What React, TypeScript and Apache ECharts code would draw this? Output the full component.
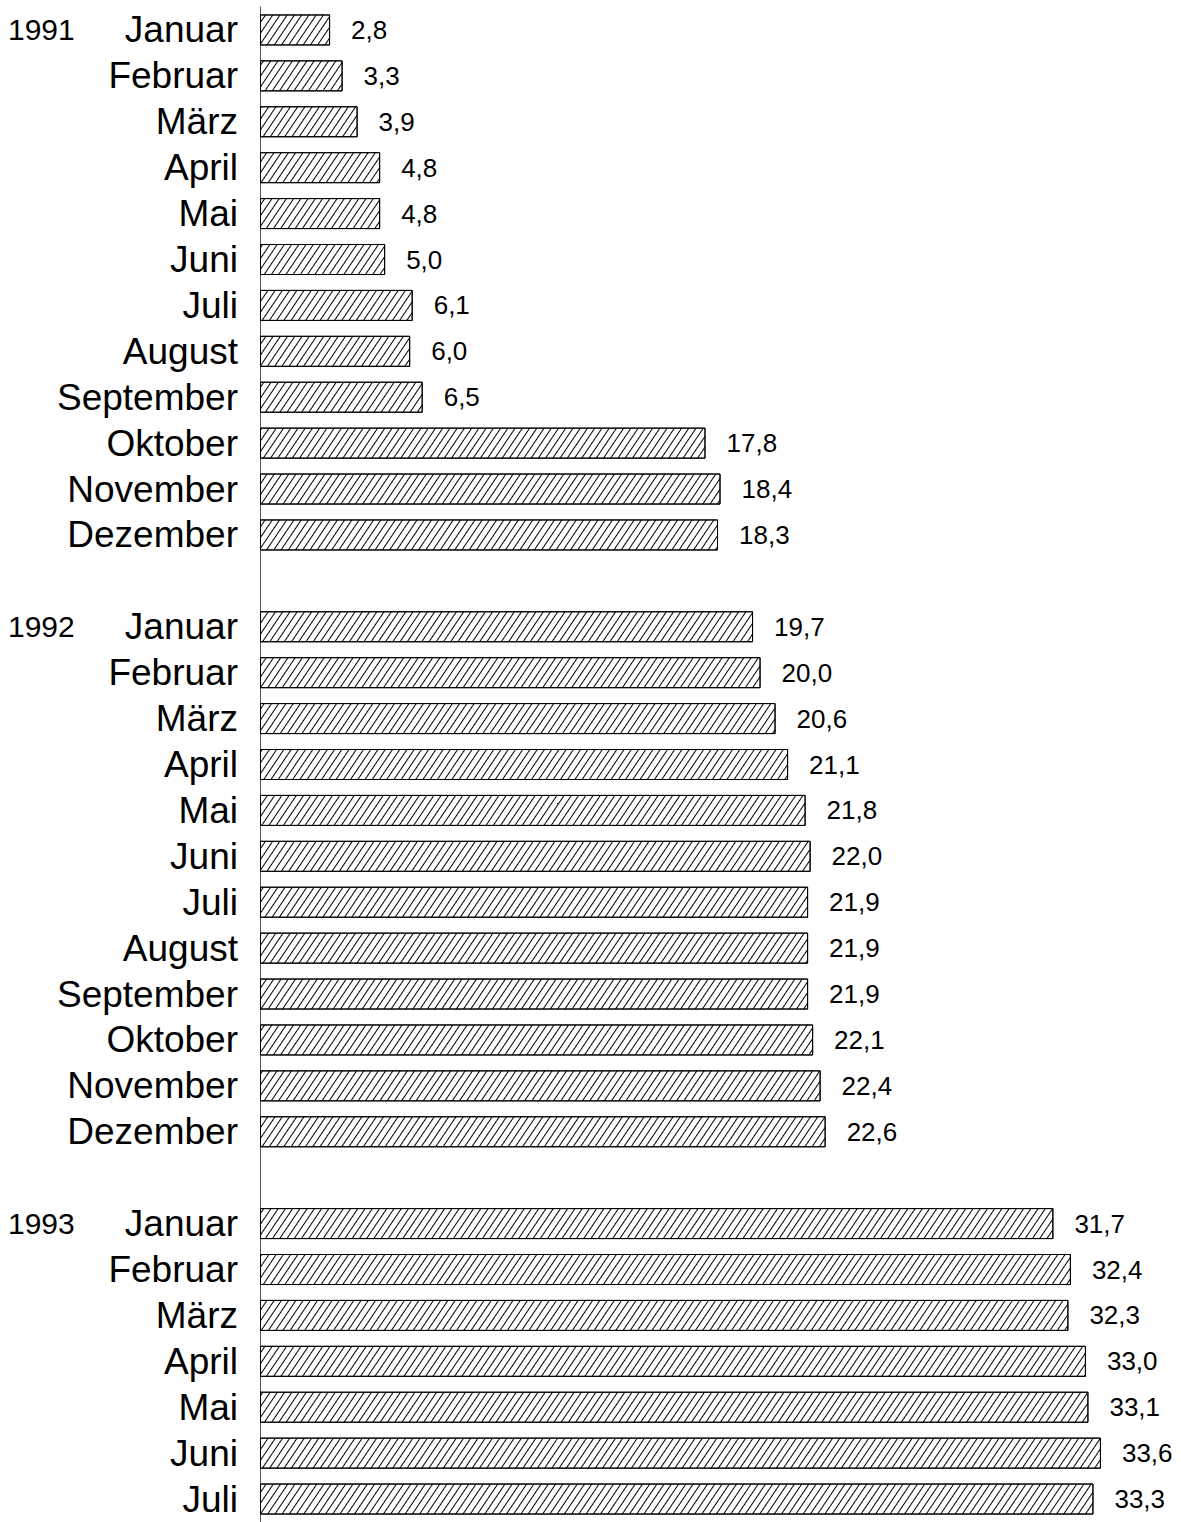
import React, { useEffect, useRef } from "react";
import * as echarts from "echarts";

const months = ["Januar", "Februar", "März", "April", "Mai", "Juni", "Juli", "August", "September", "Oktober", "November", "Dezember"];
const months1993 = ["Januar", "Februar", "März", "April", "Mai", "Juni", "Juli"];
const years = ["1991", "1992", "1993"];
const values1991 = [2.8, 3.3, 3.9, 4.8, 4.8, 5.0, 6.1, 6.0, 6.5, 17.8, 18.4, 18.3];
const values1992 = [19.7, 20.0, 20.6, 21.1, 21.8, 22.0, 21.9, 21.9, 21.9, 22.1, 22.4, 22.6];
const values1993 = [31.7, 32.4, 32.3, 33.0, 33.1, 33.6, 33.3];

const categories: string[] = [...months, "", ...months, "", ...months1993];
const yearLabels: string[] = [
  years[0], ...Array(11).fill(""), "",
  years[1], ...Array(11).fill(""), "",
  years[2], ...Array(6).fill(""),
];
const values: (number | null)[] = [...values1991, null, ...values1992, null, ...values1993];

export default function App() {
  const ref = useRef<HTMLDivElement>(null);
  useEffect(() => {
    if (!ref.current) return;
    const chart = echarts.init(ref.current, null, { renderer: "svg" });
    chart.setOption({
      animation: false,
      backgroundColor: "#fff",
      grid: { left: 260, top: 7, width: 901, height: 1515 },
      xAxis: {
        type: "value",
        min: 0,
        max: 36,
        show: false,
      },
      yAxis: [
        {
          type: "category",
          data: categories,
          inverse: true,
          axisLine: { show: true, lineStyle: { color: "#555", width: 1 } },
          axisTick: { show: false },
          axisLabel: {
            color: "#000",
            fontFamily: "Liberation Sans, Arial, sans-serif",
            fontSize: 37,
            margin: 22,
            interval: 0,
          },
        },
        {
          type: "category",
          data: yearLabels,
          inverse: true,
          position: "left",
          axisLine: { show: false },
          axisTick: { show: false },
          axisLabel: {
            color: "#000",
            fontFamily: "Liberation Sans, Arial, sans-serif",
            fontSize: 30,
            align: "left",
            margin: 252,
            interval: 0,
          },
        },
      ],
      series: [
        {
          type: "bar",
          yAxisIndex: 0,
          data: values,
          barWidth: 31,
          itemStyle: {
            color: "#fff",
            borderColor: "#000",
            borderWidth: 1,
            decal: {
              symbol: "rect",
              color: "#000",
              backgroundColor: "#fff",
              symbolSize: 1,
              dashArrayX: [1, 0],
              dashArrayY: [1, 4.6],
              rotation: -Math.PI * 56 / 180,
            },
          },
          label: {
            show: true,
            position: "right",
            distance: 21,
            color: "#000",
            fontFamily: "Liberation Sans, Arial, sans-serif",
            fontSize: 26,
            formatter: (p: any) => (p.value == null ? "" : Number(p.value).toFixed(1).replace(".", ",")),
          },
        },
      ],
    });
    return () => chart.dispose();
  }, []);
  return <div ref={ref} style={{ position: "absolute", left: 0, top: 0, width: 1181, height: 1522 }} />;
}
